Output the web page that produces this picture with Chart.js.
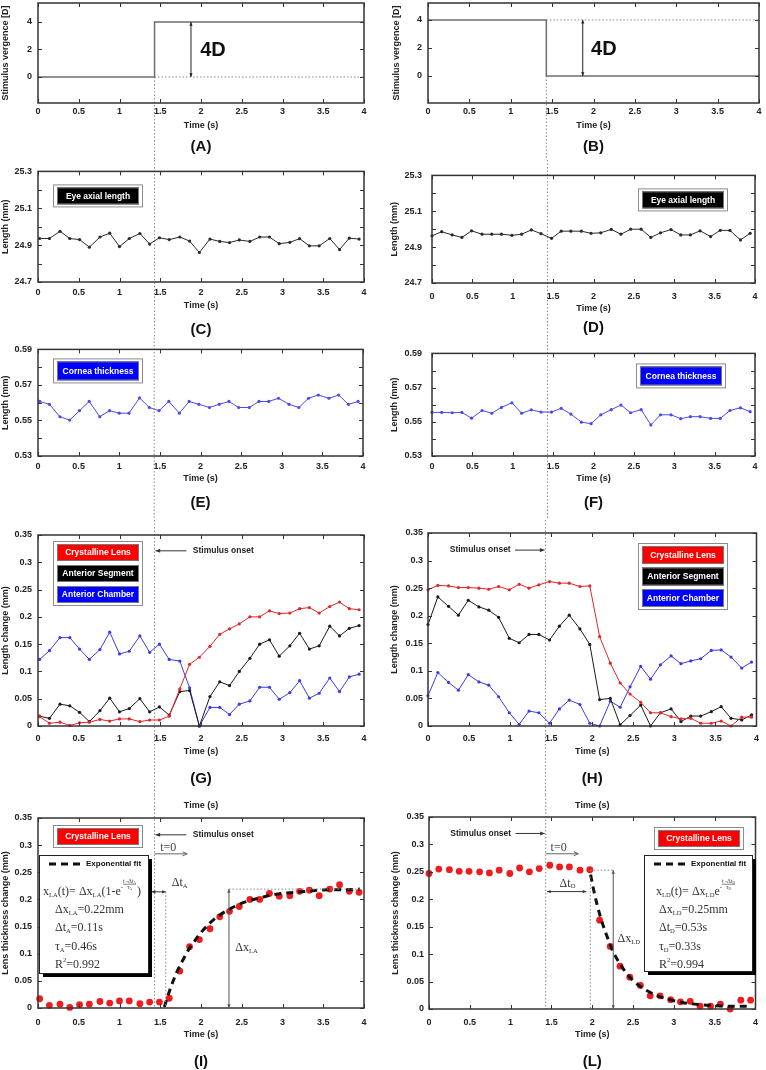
<!DOCTYPE html>
<html>
<head>
<meta charset="utf-8">
<script src="https://cdn.jsdelivr.net/npm/chart.js@4.4.1/dist/chart.umd.min.js"></script>
<style>
  body { margin: 0; background: #fff; width: 766px; height: 1070px; overflow: hidden; position: relative; }
  canvas { position: absolute; }
</style>
</head>
<body>
<script>
// ═══ data ═══
const ONSET = 1.43;

const tLeft  = [0.02, 0.14, 0.27, 0.39, 0.51, 0.63, 0.76, 0.88, 1.00, 1.12, 1.25, 1.37, 1.49, 1.61, 1.74, 1.86, 1.98,
                2.11, 2.23, 2.35, 2.47, 2.60, 2.72, 2.84, 2.96, 3.09, 3.21, 3.33, 3.45, 3.58, 3.70, 3.82, 3.94];
const tRight = [0.00, 0.12, 0.25, 0.37, 0.49, 0.62, 0.74, 0.86, 0.99, 1.11, 1.23, 1.35, 1.48, 1.60, 1.72, 1.85, 1.97,
                2.09, 2.22, 2.34, 2.46, 2.59, 2.71, 2.83, 2.96, 3.08, 3.20, 3.32, 3.45, 3.57, 3.69, 3.82, 3.94];

const stepT = [0, 1.43, 1.43, 4];
const vergA = [0, 0, 4, 4];
const vergB = [4, 4, 0, 0];

const axialC = [24.936, 24.936, 24.975, 24.936, 24.930, 24.889, 24.944, 24.965, 24.892, 24.936, 24.963, 24.906, 24.940,
                24.930, 24.944, 24.922, 24.860, 24.933, 24.920, 24.914, 24.928, 24.920, 24.944, 24.944, 24.908, 24.915,
                24.935, 24.896, 24.896, 24.936, 24.876, 24.938, 24.933];
const axialD = [24.963, 24.986, 24.968, 24.954, 24.991, 24.972, 24.972, 24.972, 24.966, 24.972, 24.996, 24.975, 24.949,
                24.989, 24.989, 24.989, 24.977, 24.980, 24.999, 24.972, 25.000, 25.000, 24.954, 24.980, 24.998, 24.968,
                24.968, 24.991, 24.959, 24.994, 24.993, 24.940, 24.977];

const corneaE = [0.5607, 0.5591, 0.5521, 0.5502, 0.5555, 0.5607, 0.5521, 0.5555, 0.5541, 0.5541, 0.5627, 0.5573, 0.5555,
                 0.5607, 0.5541, 0.5607, 0.5591, 0.5573, 0.5591, 0.5607, 0.5573, 0.5573, 0.5607, 0.5607, 0.5625, 0.5591,
                 0.5573, 0.5625, 0.5643, 0.5625, 0.5643, 0.5591, 0.5607];
const corneaF = [0.5555, 0.5555, 0.5553, 0.5555, 0.5521, 0.5566, 0.5550, 0.5584, 0.5611, 0.5550, 0.5570, 0.5557, 0.5557,
                 0.5579, 0.5545, 0.5498, 0.5489, 0.5541, 0.5571, 0.5598, 0.5553, 0.5571, 0.5482, 0.5541, 0.5541, 0.5518,
                 0.5530, 0.5530, 0.5520, 0.5520, 0.5566, 0.5582, 0.5559];

// accommodation (left) : lens / anterior segment / anterior chamber
const lensLA    = [0.017, 0.005, 0.007, 0.001, 0.006, 0.007, 0.012, 0.009, 0.013, 0.013, 0.008, 0.011, 0.011, 0.018,
                   0.068, 0.113, 0.126, 0.146, 0.168, 0.178, 0.187, 0.200, 0.200, 0.211, 0.206, 0.207, 0.215, 0.217,
                   0.207, 0.219, 0.227, 0.215, 0.213];
const segLA     = [0.018, 0.014, 0.040, 0.037, 0.025, 0.008, 0.028, 0.051, 0.026, 0.032, 0.050, 0.026, 0.035, 0.020,
                   0.063, 0.065, 0.000, 0.054, 0.081, 0.074, 0.100, 0.124, 0.150, 0.158, 0.128, 0.147, 0.170, 0.141,
                   0.147, 0.183, 0.165, 0.179, 0.184];
const chamberLA = [0.122, 0.138, 0.162, 0.162, 0.141, 0.122, 0.140, 0.172, 0.132, 0.137, 0.165, 0.135, 0.150, 0.122,
                   0.119, 0.070, 0.000, 0.034, 0.034, 0.021, 0.040, 0.046, 0.071, 0.071, 0.049, 0.061, 0.083, 0.051,
                   0.060, 0.088, 0.063, 0.090, 0.095];

// disaccommodation (right)
const lensLD    = [0.247, 0.255, 0.254, 0.251, 0.251, 0.250, 0.248, 0.253, 0.247, 0.257, 0.250, 0.256, 0.262, 0.259,
                   0.259, 0.253, 0.254, 0.162, 0.114, 0.078, 0.058, 0.043, 0.024, 0.024, 0.017, 0.013, 0.014, 0.005,
                   0.005, 0.009, 0.000, 0.016, 0.016];
const segLD     = [0.184, 0.234, 0.217, 0.201, 0.228, 0.216, 0.210, 0.197, 0.159, 0.151, 0.166, 0.166, 0.156, 0.181,
                   0.201, 0.176, 0.148, 0.048, 0.050, 0.002, 0.019, 0.038, 0.000, 0.024, 0.031, 0.008, 0.018, 0.018,
                   0.026, 0.035, 0.014, 0.011, 0.020];
const chamberLD = [0.055, 0.097, 0.079, 0.065, 0.093, 0.080, 0.074, 0.053, 0.024, 0.003, 0.027, 0.024, 0.005, 0.031,
                   0.047, 0.039, 0.005, 0.000, 0.045, 0.034, 0.071, 0.108, 0.085, 0.111, 0.127, 0.113, 0.118, 0.122,
                   0.137, 0.138, 0.125, 0.105, 0.116];

// exponential fit curves
const fitTimeLA = [1.55, 1.62, 1.70, 1.78, 1.85, 1.93, 2.00, 2.10, 2.20, 2.30, 2.40, 2.50, 2.60, 2.70, 2.80, 2.90,
                   3.00, 3.15, 3.30, 3.45, 3.60, 3.75, 3.95];
const fitLA     = [0.002, 0.034, 0.065, 0.089, 0.108, 0.125, 0.139, 0.155, 0.168, 0.178, 0.186, 0.193, 0.198, 0.202,
                   0.206, 0.209, 0.211, 0.213, 0.215, 0.217, 0.218, 0.218, 0.219];
const fitTimeLD = [1.98, 2.02, 2.06, 2.10, 2.15, 2.20, 2.25, 2.30, 2.40, 2.50, 2.60, 2.70, 2.80, 2.95, 3.10, 3.30,
                   3.50, 3.70, 3.95];
const fitLD     = [0.245, 0.215, 0.190, 0.168, 0.145, 0.125, 0.106, 0.092, 0.069, 0.052, 0.040, 0.031, 0.024, 0.017,
                   0.012, 0.008, 0.006, 0.005, 0.005];

// tick labels
const timeTicks    = [0, 0.5, 1, 1.5, 2, 2.5, 3, 3.5, 4];
const timeLabels   = ['0', '0.5', '1', '1.5', '2', '2.5', '3', '3.5', '4'];
const vergTicks    = [0, 2, 4];
const vergLabels   = ['0', '2', '4'];
const axialTicks   = [24.7, 24.8, 24.9, 25.0, 25.1, 25.2, 25.3];
const axialLabels  = ['24.7', '', '24.9', '', '25.1', '', '25.3'];
const corneaTicks  = [0.53, 0.54, 0.55, 0.56, 0.57, 0.58, 0.59];
const corneaLabels = ['0.53', '', '0.55', '', '0.57', '', '0.59'];
const changeTicks  = [0, 0.05, 0.1, 0.15, 0.2, 0.25, 0.3, 0.35];
const changeLabels = ['0', '0.05', '0.1', '0.15', '0.2', '0.25', '0.3', '0.35'];

// ═══ style ═══
const INK = '#222';
const RED = '#e3262a', BLACK = '#1a1a1a', BLUE = '#3b3be6', DOT_RED = '#ee1c1c';
const SANS = '"Liberation Sans", Arial, sans-serif';
const SERIF = '"Liberation Serif", "DejaVu Serif", serif';
const tickFont = { family: SANS, size: 9, weight: 'bold' };
const noGrid = { display: false, drawTicks: false, tickLength: 0 };

function series(times, values) {
    return times.map((t, i) => ({ x: t, y: values[i] }));
}

function lineSet(times, values, color, extra) {
    return Object.assign({
        data: series(times, values),
        borderColor: color, backgroundColor: color,
        borderWidth: 1, pointRadius: 1.6, pointBorderWidth: 0, pointBackgroundColor: color,
        tension: 0, clip: false
    }, extra || {});
}

function dotSet(times, values) {
    return {
        data: series(times, values), showLine: false,
        pointRadius: 3.4, pointBorderWidth: 0, pointBackgroundColor: DOT_RED, borderColor: DOT_RED, clip: false
    };
}

function fitSet(times, values) {
    return {
        data: series(times, values), borderColor: '#111', borderWidth: 3, borderDash: [7, 5],
        pointRadius: 0, cubicInterpolationMode: 'monotone', clip: false
    };
}

// ═══ drawing helpers ═══
function dotted(ctx, x1, y1, x2, y2) {
    ctx.save();
    ctx.strokeStyle = '#8a8a8a'; ctx.lineWidth = 1; ctx.setLineDash([1.5, 2]);
    ctx.beginPath(); ctx.moveTo(x1, y1); ctx.lineTo(x2, y2); ctx.stroke();
    ctx.restore();
}

function head(ctx, x, y, ang, size, open) {
    const a1 = ang - 0.42, a2 = ang + 0.42;
    ctx.beginPath();
    if (open) {
        ctx.moveTo(x - size * Math.cos(a1), y - size * Math.sin(a1));
        ctx.lineTo(x, y);
        ctx.lineTo(x - size * Math.cos(a2), y - size * Math.sin(a2));
        ctx.stroke();
    } else {
        ctx.moveTo(x, y);
        ctx.lineTo(x - size * Math.cos(a1), y - size * Math.sin(a1));
        ctx.lineTo(x - size * Math.cos(a2), y - size * Math.sin(a2));
        ctx.closePath(); ctx.fill();
    }
}

function arrow(ctx, x1, y1, x2, y2, o) {
    o = o || {};
    ctx.save();
    ctx.strokeStyle = ctx.fillStyle = o.color || '#333';
    ctx.lineWidth = o.width || 1;
    ctx.beginPath(); ctx.moveTo(x1, y1); ctx.lineTo(x2, y2); ctx.stroke();
    const ang = Math.atan2(y2 - y1, x2 - x1);
    head(ctx, x2, y2, ang, o.size || 5, o.open);
    if (o.start) head(ctx, x1, y1, ang + Math.PI, o.size || 5, o.open);
    ctx.restore();
}

function text(ctx, str, x, y, font, color, align) {
    ctx.save();
    ctx.font = font; ctx.fillStyle = color || INK;
    ctx.textAlign = align || 'left'; ctx.textBaseline = 'middle';
    ctx.fillText(str, x, y);
    ctx.restore();
}

// tiny rich-text: ['txt','n'|'sub'|'sup'] or {frac:[num, den]}
function rich(ctx, x, y, parts, size, draw) {
    let cx = x;
    ctx.textAlign = 'left'; ctx.textBaseline = 'middle';
    for (const p of parts) {
        if (p.frac) {
            const fs = size * 0.5;
            const wn = rich(ctx, 0, 0, p.frac[0], fs, false);
            const wd = rich(ctx, 0, 0, p.frac[1], fs, false);
            const w = Math.max(wn, wd);
            if (draw) {
                rich(ctx, cx + (w - wn) / 2, y - size * 0.92, p.frac[0], fs, true);
                ctx.fillRect(cx, y - size * 0.68, w, 0.6);
                rich(ctx, cx + (w - wd) / 2, y - size * 0.42, p.frac[1], fs, true);
            }
            cx += w + 1;
            continue;
        }
        const [str, kind] = p;
        const s  = kind === 'n' ? size : size * 0.55;
        const dy = kind === 'sub' ? size * 0.28 : kind === 'sup' ? -size * 0.38 : 0;
        ctx.font = s + 'px ' + SERIF;
        if (draw) ctx.fillText(str, cx, y + dy);
        cx += ctx.measureText(str).width;
    }
    return cx - x;
}

function tagBox(ctx, x, y, entries, eh, pitch) {
    const w = 90, h = 6 + eh + pitch * (entries.length - 1);
    ctx.save();
    ctx.fillStyle = '#fff'; ctx.fillRect(x, y, w, h);
    ctx.strokeStyle = '#8c8c8c'; ctx.lineWidth = 1; ctx.strokeRect(x + 0.5, y + 0.5, w - 1, h - 1);
    entries.forEach((e, i) => {
        const ey = y + 3 + i * pitch;
        ctx.fillStyle = e.bg; ctx.fillRect(x + 4, ey, w - 8, eh);
        ctx.strokeStyle = '#777'; ctx.strokeRect(x + 4.5, ey + 0.5, w - 9, eh - 1);
        ctx.fillStyle = '#fff'; ctx.font = 'bold 8.5px ' + SANS;
        ctx.textAlign = 'center'; ctx.textBaseline = 'middle';
        ctx.fillText(e.text, x + w / 2, ey + eh / 2 + 0.5);
    });
    ctx.restore();
}

function fitBox(ctx, x, y, w, h, formula, rows, fx, rx) {
    ctx.save();
    ctx.fillStyle = '#000'; ctx.fillRect(x + 4, y + 4, w, h);
    ctx.fillStyle = '#fff'; ctx.fillRect(x, y, w, h);
    ctx.strokeStyle = '#222'; ctx.lineWidth = 1; ctx.strokeRect(x + 0.5, y + 0.5, w, h);
    ctx.strokeStyle = '#111'; ctx.lineWidth = 3; ctx.setLineDash([7, 5]);
    ctx.beginPath(); ctx.moveTo(x + 10, y + 9); ctx.lineTo(x + 41, y + 9); ctx.stroke();
    ctx.setLineDash([]);
    text(ctx, 'Exponential fit', x + 47, y + 9, 'bold 8px ' + SANS, '#111');
    ctx.fillStyle = '#333';
    rich(ctx, x + fx, y + 37, formula, 12, true);
    rows.forEach((r, i) => { ctx.fillStyle = '#333'; rich(ctx, x + rx, y + 55 + i * 18.3, r, 12, true); });
    ctx.restore();
}

// ═══ per-panel annotations ═══
function drawA(chart, ctx, X, Y) {
    dotted(ctx, X(ONSET), Y(0), X(4), Y(0));
    arrow(ctx, X(1.877), Y(0), X(1.877), Y(4), { start: true, size: 4, color: '#222' });
    text(ctx, '4D', X(1.99), Y(1.96), 'bold 20px ' + SANS, '#111');
}

function drawB(chart, ctx, X, Y) {
    dotted(ctx, X(ONSET), Y(4), X(4), Y(4));
    arrow(ctx, X(1.87), Y(0), X(1.87), Y(4), { start: true, size: 4, color: '#222' });
    text(ctx, '4D', X(1.97), Y(1.9), 'bold 20px ' + SANS, '#111');
}

function drawC(chart, ctx) {
    const a = chart.chartArea;
    tagBox(ctx, a.left + 15, a.top + 13, [{ text: 'Eye axial length', bg: '#000' }], 17, 21);
}

function drawD(chart, ctx) {
    const a = chart.chartArea;
    tagBox(ctx, a.left + 206, a.top + 13, [{ text: 'Eye axial length', bg: '#000' }], 17, 21);
}

function drawE(chart, ctx) {
    const a = chart.chartArea;
    tagBox(ctx, a.left + 15, a.top + 9, [{ text: 'Cornea thickness', bg: '#0000ff' }], 19, 21);
}

function drawF(chart, ctx) {
    const a = chart.chartArea;
    tagBox(ctx, a.left + 204, a.top + 10, [{ text: 'Cornea thickness', bg: '#0000ff' }], 19, 21);
}

const threeTags = [
    { text: 'Crystalline Lens', bg: '#ff0000' },
    { text: 'Anterior Segment', bg: '#000' },
    { text: 'Anterior Chamber', bg: '#0000ff' }
];

function drawG(chart, ctx, X, Y) {
    const a = chart.chartArea;
    tagBox(ctx, a.left + 15, a.top + 6, threeTags, 17, 21);
    arrow(ctx, X(1.82), Y(0.321), X(ONSET) + 1, Y(0.321), { color: '#333', size: 5 });
    text(ctx, 'Stimulus onset', X(1.9), Y(0.321), 'bold 8.5px ' + SANS, INK);
}

function drawH(chart, ctx, X, Y) {
    const a = chart.chartArea;
    tagBox(ctx, a.left + 210, a.top + 10, threeTags, 18, 21.5);
    arrow(ctx, X(1.06), Y(0.319), X(ONSET) - 1, Y(0.319), { color: '#333', size: 5 });
    text(ctx, 'Stimulus onset', X(0.265), Y(0.319), 'bold 8.5px ' + SANS, INK);
}

const formulaLA = [['x', 'n'], ['LA', 'sub'], ['(t)= Δx', 'n'], ['LA', 'sub'], ['(1-e', 'n'], ['-', 'sup'],
                   { frac: [[['t -Δt', 'n'], ['A', 'sub']], [['τ', 'n'], ['A', 'sub']]] }, [')', 'n']];
const rowsLA = [
    [['Δx', 'n'], ['LA', 'sub'], ['=0.22mm', 'n']],
    [['Δt', 'n'], ['A', 'sub'], ['=0.11s', 'n']],
    [['τ', 'n'], ['A', 'sub'], ['=0.46s', 'n']],
    [['R', 'n'], ['2', 'sup'], ['=0.992', 'n']]
];
const formulaLD = [['x', 'n'], ['LD', 'sub'], ['(t)= Δx', 'n'], ['LD', 'sub'], ['e', 'n'], ['-', 'sup'],
                   { frac: [[['t -Δt', 'n'], ['D', 'sub']], [['τ', 'n'], ['D', 'sub']]] }];
const rowsLD = [
    [['Δx', 'n'], ['LD', 'sub'], ['=0.25mm', 'n']],
    [['Δt', 'n'], ['D', 'sub'], ['=0.53s', 'n']],
    [['τ', 'n'], ['D', 'sub'], ['=0.33s', 'n']],
    [['R', 'n'], ['2', 'sup'], ['=0.994', 'n']]
];

function drawI(chart, ctx, X, Y) {
    const a = chart.chartArea;
    tagBox(ctx, a.left + 15, a.top + 7, [{ text: 'Crystalline Lens', bg: '#ff0000' }], 17, 21);
    arrow(ctx, X(1.82), Y(0.319), X(ONSET) + 1, Y(0.319), { color: '#333', size: 5 });
    text(ctx, 'Stimulus onset', X(1.9), Y(0.319), 'bold 8.5px ' + SANS, INK);
    text(ctx, 't=0', X(1.5), Y(0.295), '12px ' + SERIF, '#444');
    arrow(ctx, X(ONSET), Y(0.284), X(1.83), Y(0.284), { color: '#666', size: 5, open: true });
    fitBox(ctx, a.left + 1, a.top + 37, 109, 118, formulaLA, rowsLA, 4, 16);
    arrow(ctx, X(1.395), Y(0.214), X(1.567), Y(0.214), { start: true, size: 4, color: '#333' });
    ctx.fillStyle = '#333'; rich(ctx, X(1.64), Y(0.23), [['Δt', 'n'], ['A', 'sub']], 12, true);
    dotted(ctx, X(1.567), Y(0.214), X(1.567), Y(0));
    dotted(ctx, X(2.343), Y(0.219), X(3.95), Y(0.219));
    arrow(ctx, X(2.343), Y(0.219), X(2.343), Y(0), { start: true, size: 4, color: '#555' });
    ctx.fillStyle = '#333'; rich(ctx, X(2.42), Y(0.11), [['Δx', 'n'], ['LA', 'sub']], 12, true);
}

function drawL(chart, ctx, X, Y) {
    const a = chart.chartArea;
    tagBox(ctx, a.left + 225, a.top + 10, [{ text: 'Crystalline Lens', bg: '#ff0000' }], 17, 21);
    arrow(ctx, X(1.06), Y(0.32), X(ONSET) - 1, Y(0.32), { color: '#333', size: 5 });
    text(ctx, 'Stimulus onset', X(0.26), Y(0.32), 'bold 8.5px ' + SANS, INK);
    text(ctx, 't=0', X(1.49), Y(0.293), '12px ' + SERIF, '#444');
    arrow(ctx, X(ONSET), Y(0.283), X(1.83), Y(0.283), { color: '#666', size: 5, open: true });
    fitBox(ctx, a.left + 215, a.top + 38, 108, 116, formulaLD, rowsLD, 12, 15);
    arrow(ctx, X(1.446), Y(0.214), X(1.928), Y(0.214), { start: true, size: 4, color: '#333' });
    ctx.fillStyle = '#333'; rich(ctx, X(1.6), Y(0.229), [['Δt', 'n'], ['D', 'sub']], 12, true);
    dotted(ctx, X(1.976), Y(0.253), X(1.976), Y(0));
    dotted(ctx, X(1.976), Y(0.253), X(2.257), Y(0.253));
    arrow(ctx, X(2.257), Y(0.253), X(2.257), Y(0), { start: true, size: 4, color: '#555' });
    ctx.fillStyle = '#333'; rich(ctx, X(2.31), Y(0.127), [['Δx', 'n'], ['LD', 'sub']], 12, true);
}

// ═══ panel layout ═══
const defs = {
    A: { x0: 0,   band: [-20, 160], area: [38, 3, 364, 103],  tickPad: 3, titleOff: 23, labelOff: 44, yLabPad: 6,  yTitlePad: 0,
         yMin: -1.89, yMax: 5.38, yTicks: vergTicks, yLabels: vergLabels, yTitle: 'Stimulus vergence [D]', onset: 'zero', extra: drawA,
         datasets: [lineSet(stepT, vergA, '#6d6d6d', { borderWidth: 1.5, pointRadius: 0 })] },
    B: { x0: 383, band: [-20, 160], area: [428, 3, 759, 103], tickPad: 3, titleOff: 23, labelOff: 44, yLabPad: 6,  yTitlePad: 8.6,
         yMin: -1.93, yMax: 5.21, yTicks: vergTicks, yLabels: vergLabels, yTitle: 'Stimulus vergence [D]', onset: 'zero', extra: drawB,
         datasets: [lineSet(stepT, vergB, '#6d6d6d', { borderWidth: 1.5, pointRadius: 0 })] },
    C: { x0: 0,   band: [160, 338], area: [38, 169, 364, 282], tickPad: 5, titleOff: 24, labelOff: 48, yLabPad: 6,  yTitlePad: 0,
         yMin: 24.7, yMax: 25.3, yTicks: axialTicks, yLabels: axialLabels, yTitle: 'Length (mm)', onset: 'full', extra: drawC,
         datasets: [lineSet(tLeft, axialC, '#2a2a2a')] },
    D: { x0: 383, band: [160, 338], area: [432, 169, 755, 283], tickPad: 8, titleOff: 26, labelOff: 45, yLabPad: 10, yTitlePad: 6.3,
         yMin: 24.7, yMax: 25.3, yTicks: axialTicks, yLabels: axialLabels, yTitle: 'Length (mm)', onset: 'full', extra: drawD,
         datasets: [lineSet(tRight, axialD, '#2a2a2a')] },
    E: { x0: 0,   band: [338, 520], area: [38, 344, 363, 456], tickPad: 5, titleOff: 23, labelOff: 47, yLabPad: 6,  yTitlePad: 0,
         yMin: 0.53, yMax: 0.59, yTicks: corneaTicks, yLabels: corneaLabels, yTitle: 'Length (mm)', onset: 'full', extra: drawE,
         datasets: [lineSet(tLeft, corneaE, '#4b4bea')] },
    F: { x0: 383, band: [338, 520], area: [432, 344, 755, 456], tickPad: 5, titleOff: 23, labelOff: 47, yLabPad: 10, yTitlePad: 6,
         yMin: 0.53, yMax: 0.59, yTicks: corneaTicks, yLabels: corneaLabels, yTitle: 'Length (mm)', onset: 'full', extra: drawF,
         datasets: [lineSet(tRight, corneaF, '#4b4bea')] },
    G: { x0: 0,   band: [520, 795], area: [38, 535, 364, 726], tickPad: 7, titleOff: 26, labelOff: 53, yLabPad: 6,  yTitlePad: 0,
         yMin: 0, yMax: 0.35, yTicks: changeTicks, yLabels: changeLabels, yTitle: 'Length change (mm)', onset: 'full', extra: drawG,
         datasets: [lineSet(tLeft, lensLA, RED), lineSet(tLeft, segLA, BLACK), lineSet(tLeft, chamberLA, BLUE)] },
    H: { x0: 383, band: [520, 795], area: [428, 533, 760, 726], tickPad: 7, titleOff: 26, labelOff: 53, yLabPad: 5,  yTitlePad: 6.3,
         yMin: 0, yMax: 0.35, yTicks: changeTicks, yLabels: changeLabels, yTitle: 'Length change (mm)', onset: 'full', extra: drawH,
         datasets: [lineSet(tRight, lensLD, RED), lineSet(tRight, segLD, BLACK), lineSet(tRight, chamberLD, BLUE)] },
    I: { x0: 0,   band: [795, 1070], area: [38, 818, 364, 1008], tickPad: 9, titleOff: 27, labelOff: 54, yLabPad: 6, yTitlePad: 0,
         yMin: 0, yMax: 0.35, yTicks: changeTicks, yLabels: changeLabels, yTitle: 'Lens thickness change (mm)', onset: 'end', extra: drawI,
         topTitle: 12, datasets: [fitSet(fitTimeLA, fitLA), dotSet(tLeft, lensLA)] },
    L: { x0: 383, band: [795, 1070], area: [429, 817, 760, 1009], tickPad: 8, titleOff: 26, labelOff: 53, yLabPad: 5, yTitlePad: 7.2,
         yMin: 0, yMax: 0.35, yTicks: changeTicks, yLabels: changeLabels, yTitle: 'Lens thickness change (mm)', onset: 'end', extra: drawL,
         topTitle: 11, datasets: [fitSet(fitTimeLD, fitLD), dotSet(tRight, lensLD)] }
};

function innerTicks(ctx, chart) {
    const { left, right, top, bottom } = chart.chartArea;
    const sx = chart.scales.x, sy = chart.scales.y;
    ctx.save();
    ctx.strokeStyle = '#333'; ctx.lineWidth = 1;
    ctx.beginPath();
    sx.ticks.forEach(t => {
        const p = Math.round(sx.getPixelForValue(t.value)) + 0.5;
        ctx.moveTo(p, bottom); ctx.lineTo(p, bottom - 4);
        ctx.moveTo(p, top);    ctx.lineTo(p, top + 4);
    });
    sy.ticks.forEach(t => {
        const p = Math.round(sy.getPixelForValue(t.value)) + 0.5;
        ctx.moveTo(left, p);  ctx.lineTo(left + 4, p);
        ctx.moveTo(right, p); ctx.lineTo(right - 4, p);
    });
    ctx.stroke();
    ctx.restore();
}

const panelDeco = {
    id: 'panelDeco',
    beforeDatasetsDraw(chart) {
        const d = defs[chart.canvas.id];
        const px = chart.scales.x.getPixelForValue(ONSET);
        let y1 = 0, y2 = chart.height;
        if (d.onset === 'zero') y1 = chart.scales.y.getPixelForValue(0);
        if (d.onset === 'end') y2 = chart.chartArea.bottom;
        dotted(chart.ctx, px, y1, px, y2);
    },
    afterDatasetsDraw(chart) {
        const d = defs[chart.canvas.id];
        const ctx = chart.ctx, a = chart.chartArea;
        const X = v => chart.scales.x.getPixelForValue(v);
        const Y = v => chart.scales.y.getPixelForValue(v);
        ctx.save();
        ctx.strokeStyle = '#333'; ctx.lineWidth = 1.5;
        ctx.strokeRect(a.left, a.top, a.right - a.left, a.bottom - a.top);
        ctx.restore();
        innerTicks(ctx, chart);
        d.extra(chart, ctx, X, Y);
        const cx = (a.left + a.right) / 2;
        text(ctx, '(' + chart.canvas.id + ')', cx, a.bottom + d.labelOff, 'bold 15px ' + SANS, '#111', 'center');
        if (d.topTitle) text(ctx, 'Time (s)', cx, a.top - d.topTitle, 'bold 9px ' + SANS, INK, 'center');
    }
};

function buildPanel(id) {
    const d = defs[id];
    const [aL, aT, aR, aB] = d.area;
    const cv = document.createElement('canvas');
    cv.id = id;
    cv.width = 383;
    cv.height = d.band[1] - d.band[0];
    cv.style.left = d.x0 + 'px';
    cv.style.top = d.band[0] + 'px';
    document.body.appendChild(cv);
    const xH = d.titleOff + 5.4;

    new Chart(cv.getContext('2d'), {
        type: 'line',
        data: { datasets: d.datasets },
        options: {
            responsive: false,
            animation: false,
            devicePixelRatio: 1,
            layout: { padding: { left: 0, top: aT - d.band[0], right: d.x0 + 383 - aR, bottom: d.band[1] - aB - xH } },
            plugins: { legend: { display: false }, tooltip: { enabled: false } },
            scales: {
                x: {
                    type: 'linear', min: 0, max: 4,
                    grid: noGrid, border: { display: false },
                    afterBuildTicks: s => { s.ticks = timeTicks.map(v => ({ value: v })); },
                    afterFit: s => { s.height = xH; },
                    ticks: { font: tickFont, color: INK, padding: d.tickPad, maxRotation: 0, autoSkip: false,
                             callback: (v, i) => timeLabels[i] },
                    title: { display: true, text: 'Time (s)', font: tickFont, color: INK, padding: { top: 0, bottom: 0 } }
                },
                y: {
                    type: 'linear', min: d.yMin, max: d.yMax,
                    grid: noGrid, border: { display: false },
                    afterBuildTicks: s => { s.ticks = d.yTicks.map(v => ({ value: v })); },
                    afterFit: s => { s.width = aL - d.x0; },
                    ticks: { font: tickFont, color: INK, padding: d.yLabPad, autoSkip: false,
                             callback: (v, i) => d.yLabels[i] },
                    title: { display: true, text: d.yTitle, font: tickFont, color: INK, padding: { top: d.yTitlePad, bottom: 0 } }
                }
            }
        },
        plugins: [panelDeco]
    });
}

Object.keys(defs).forEach(buildPanel);
</script>
</body>
</html>
